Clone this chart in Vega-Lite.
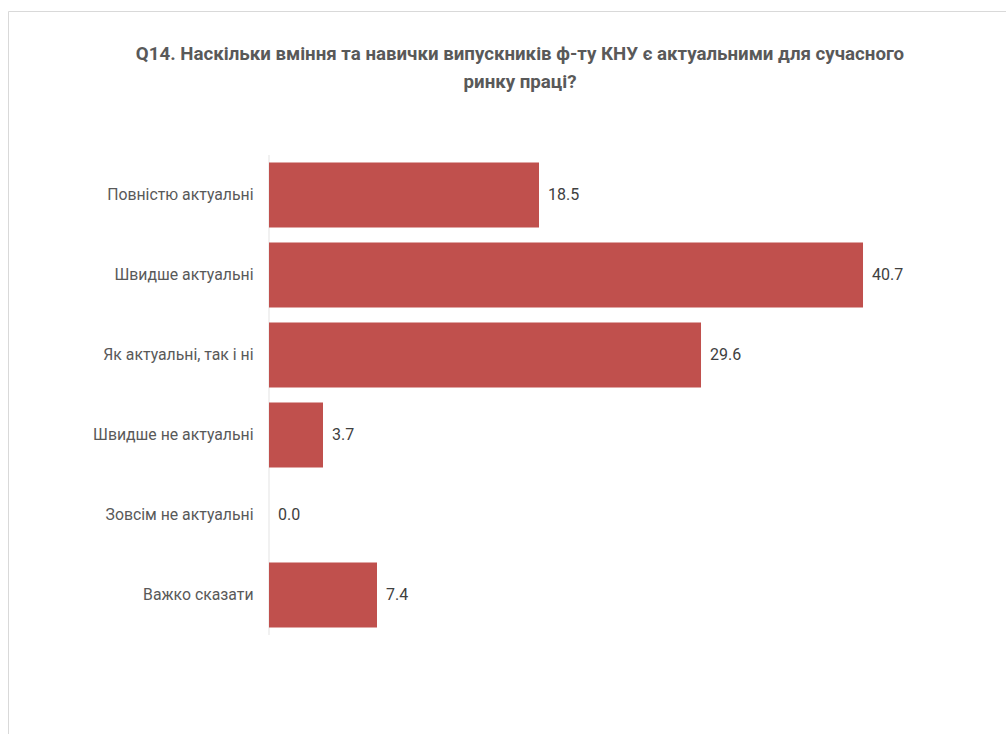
{
  "$schema": "https://vega.github.io/schema/vega-lite/v6.json",
  "width": 1000,
  "height": 729,
  "autosize": "none",
  "padding": {"left": 8, "top": 11, "right": 0, "bottom": 0},
  "background": "white",
  "config": {"view": {"stroke": "#d9d9d9", "strokeWidth": 1}, "font": "Roboto"},
  "title": {
    "text": ["Q14. Наскільки вміння та навички випускників ф-ту КНУ є актуальними для сучасного", "ринку праці?"],
    "anchor": "middle",
    "baseline": "top",
    "offset": -81,
    "dx": 12,
    "fontSize": 18.7,
    "font": "Roboto",
    "fontWeight": "bold",
    "color": "#595959",
    "lineHeight": 28
  },
  "data": {
    "values": [
      {"cat": "Повністю актуальні", "value": 18.5},
      {"cat": "Швидше актуальні", "value": 40.7},
      {"cat": "Як актуальні, так і ні", "value": 29.6},
      {"cat": "Швидше не актуальні", "value": 3.7},
      {"cat": "Зовсім не актуальні", "value": 0.0},
      {"cat": "Важко сказати", "value": 7.4}
    ]
  },
  "encoding": {
    "y": {
      "field": "cat",
      "type": "nominal",
      "sort": null,
      "scale": {"range": [144, 624], "paddingInner": 0.1875, "paddingOuter": 0.09375},
      "axis": {
        "title": null,
        "offset": -261,
        "domain": false,
        "ticks": false,
        "grid": false,
        "labelPadding": 16,
        "labelFont": "Roboto",
        "labelFontSize": 15.8,
        "labelColor": "#595959",
        "labelLimit": 300
      }
    }
  },
  "layer": [
    {
      "mark": {"type": "tick", "size": 80, "thickness": 1, "color": "#d9d9d9"},
      "encoding": {
        "x": {"datum": 0, "type": "quantitative", "scale": {"domain": [-17.883, 50.634], "nice": false, "zero": false}, "axis": null}
      }
    },
    {
      "mark": {"type": "bar", "color": "#C0504D"},
      "encoding": {
        "x": {"field": "value", "type": "quantitative", "scale": {"domain": [-17.883, 50.634], "nice": false, "zero": false}, "axis": null},
        "x2": {"datum": 0}
      }
    },
    {
      "mark": {"type": "text", "align": "left", "baseline": "middle", "dx": 9, "fontSize": 16, "font": "Roboto", "color": "#404040"},
      "encoding": {
        "x": {"field": "value", "type": "quantitative", "scale": {"domain": [-17.883, 50.634], "nice": false, "zero": false}, "axis": null},
        "text": {"field": "value", "type": "quantitative", "format": ".1f"}
      }
    }
  ]
}
